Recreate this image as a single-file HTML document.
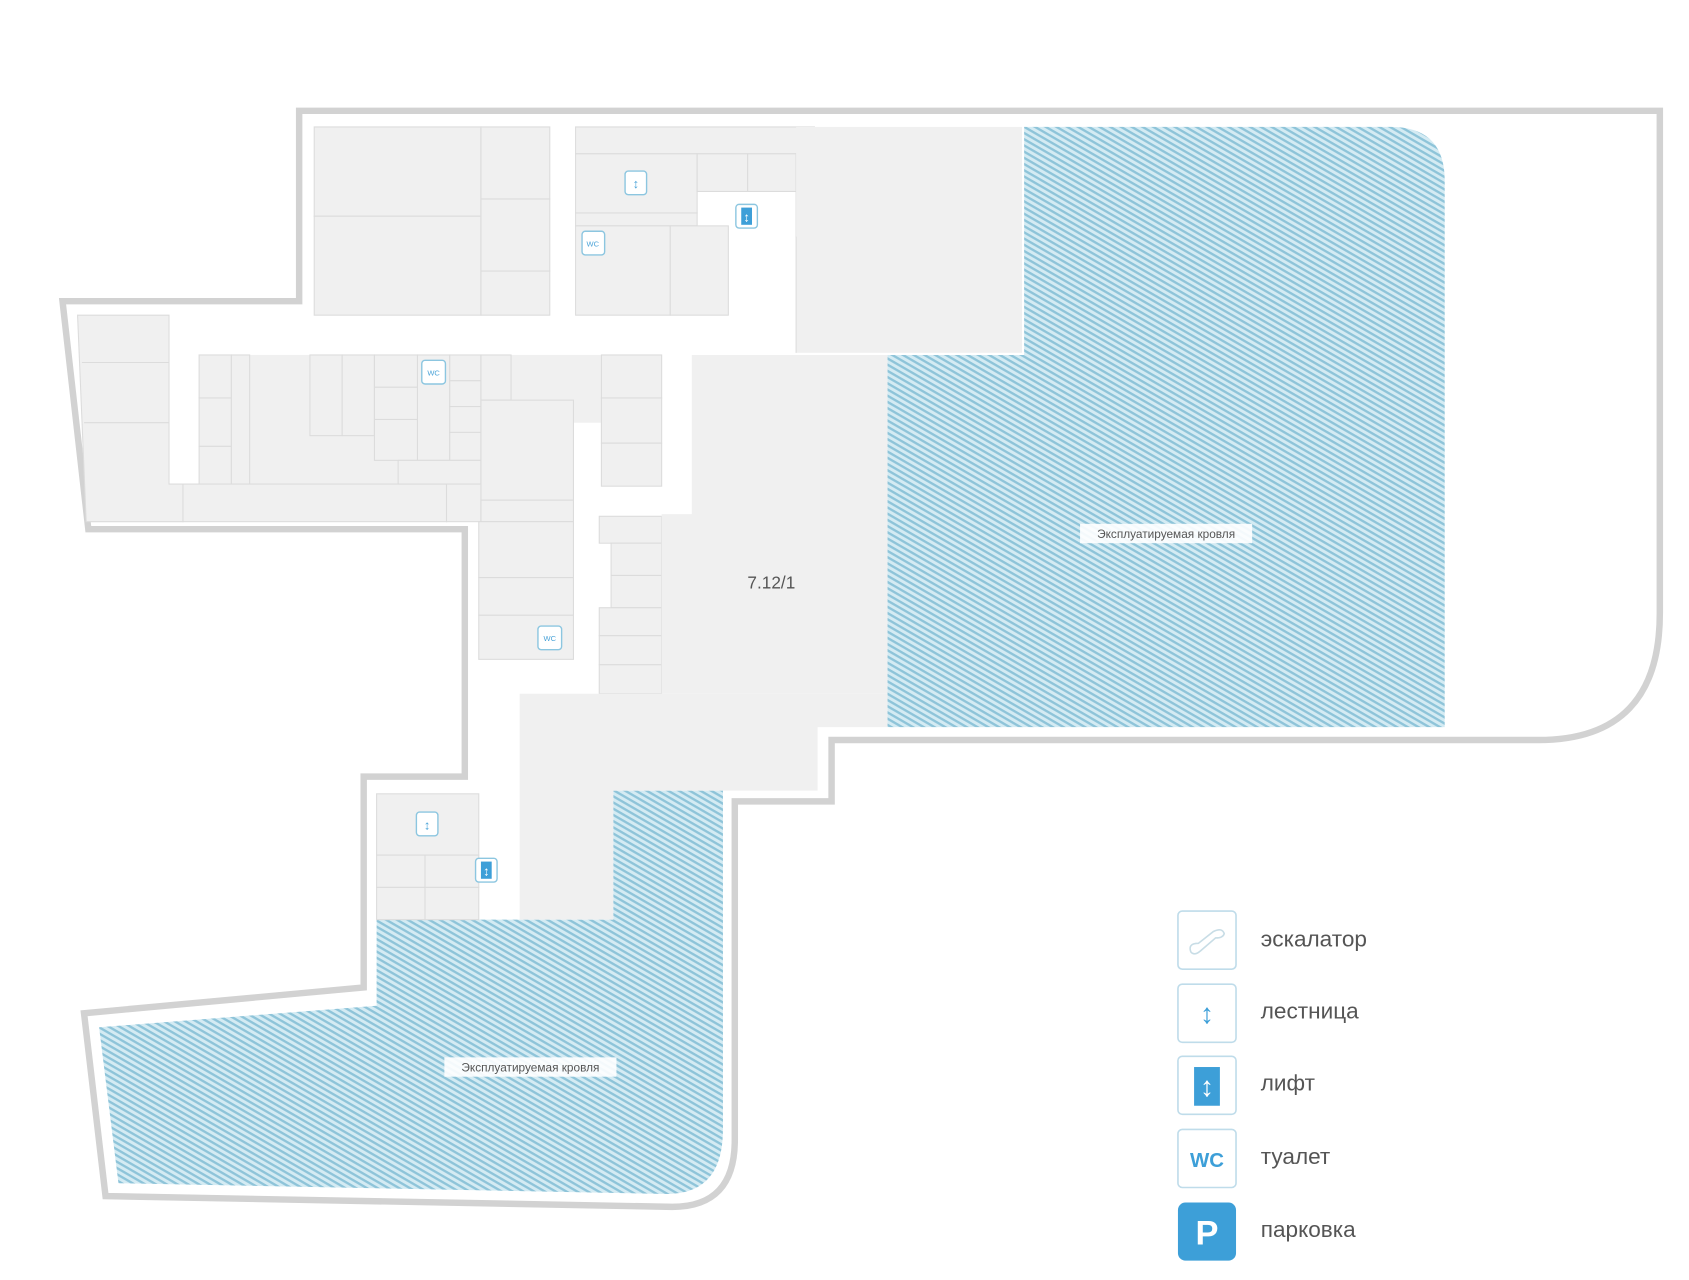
<!DOCTYPE html>
<html><head><meta charset="utf-8"><style>
html,body{margin:0;padding:0;background:#fff}
svg{display:block}
text{font-family:"Liberation Sans",sans-serif}
</style></head><body>
<svg width="1689" height="1280" viewBox="0 0 1570 1190" xmlns="http://www.w3.org/2000/svg">
<defs>
<pattern id="h" width="5" height="5" patternUnits="userSpaceOnUse" patternTransform="rotate(30)">
<rect width="5" height="5" fill="#d4ebf3"/>
<rect width="5" height="2.2" fill="#8ec4d9"/>
</pattern>
</defs>
<path d="M278,103 H1543 V570 Q1543,688 1430,688 H773 V745 H683 V1060 Q683,1122 625,1122 L98,1112 L78,942 L338,918 V722 H432 V492 H82 L58,280 H278 Z" fill="#fff" stroke="#d2d2d2" stroke-width="6"/>
<path d="M952,118 H1293 Q1343,118 1343,168 V676 H825 V330 H952 Z" fill="url(#h)"/>
<path d="M570,735 H672 V1050 Q672,1110 620,1110 L110,1100 L92,955 L350,935 V855 H570 Z" fill="url(#h)"/>
<g fill="#f0f0f0" stroke="#dcdcdc" stroke-width="1">
<rect x="232" y="330" width="301" height="155" stroke="none"/>
<rect x="533" y="330" width="26" height="63" stroke="none"/>
<rect x="292" y="118" width="155" height="83"/><rect x="292" y="201" width="155" height="92"/>
<rect x="447" y="118" width="64" height="67"/><rect x="447" y="185" width="64" height="67"/><rect x="447" y="252" width="64" height="41"/>
<rect x="535" y="118" width="222" height="25"/>
<rect x="535" y="143" width="113" height="55"/><rect x="535" y="198" width="113" height="12"/>
<rect x="648" y="143" width="47" height="35"/><rect x="695" y="143" width="45" height="35"/><rect x="740" y="143" width="17" height="77"/>
<rect x="535" y="210" width="88" height="83"/><rect x="623" y="210" width="54" height="83"/>
<rect x="740" y="118" width="210" height="210" stroke="none"/>
<line x1="740" y1="220" x2="740" y2="328"/>
<path d="M72,293 H157 V450 H170 V485 H80 Z"/>
<line x1="76" y1="337" x2="157" y2="337"/><line x1="78" y1="393" x2="157" y2="393"/>
<rect x="185" y="330" width="30" height="40"/><rect x="185" y="370" width="30" height="45"/><rect x="185" y="415" width="30" height="35"/><rect x="215" y="330" width="17" height="120"/>
<rect x="170" y="450" width="245" height="35"/>
<rect x="288" y="330" width="30" height="75"/><rect x="318" y="330" width="30" height="75"/>
<rect x="348" y="330" width="40" height="30"/><rect x="348" y="360" width="40" height="30"/><rect x="348" y="390" width="40" height="38"/>
<rect x="388" y="330" width="30" height="98"/>
<rect x="418" y="330" width="29" height="24"/><rect x="418" y="354" width="29" height="24"/><rect x="418" y="378" width="29" height="24"/><rect x="418" y="402" width="29" height="26"/>
<rect x="370" y="428" width="77" height="22"/>
<rect x="447" y="330" width="28" height="42"/>
<rect x="447" y="372" width="86" height="93"/>
<rect x="559" y="330" width="56" height="40"/><rect x="559" y="370" width="56" height="42"/><rect x="559" y="412" width="56" height="40"/>
<rect x="415" y="450" width="32" height="35"/><rect x="447" y="465" width="86" height="20"/>
<rect x="445" y="485" width="88" height="52"/><rect x="445" y="537" width="88" height="35"/><rect x="445" y="572" width="88" height="41"/>
<rect x="557" y="480" width="58" height="25"/><rect x="568" y="505" width="47" height="30"/><rect x="568" y="535" width="47" height="30"/><rect x="557" y="565" width="58" height="26"/><rect x="557" y="591" width="58" height="27"/><rect x="557" y="618" width="58" height="27"/>
<path d="M643,330 H825 V645 H615 V478 H643 Z" stroke="none"/>
<path d="M483,645 H825 V676 H760 V735 H570 V855 H483 Z" stroke="none"/>
<rect x="350" y="738" width="95" height="57"/><rect x="350" y="795" width="45" height="30"/><rect x="395" y="795" width="50" height="30"/><rect x="350" y="825" width="45" height="30"/><rect x="395" y="825" width="50" height="30"/>
</g>
<g fill="#fff" stroke="#8cc6e0" stroke-width="1.3">
<rect x="581" y="159" width="20" height="22" rx="3"/><rect x="387" y="755" width="20" height="22" rx="3"/>
<rect x="541" y="215" width="21" height="22" rx="3"/><rect x="392" y="335" width="22" height="22" rx="3"/><rect x="500" y="582" width="22" height="22" rx="3"/>
<rect x="684" y="190" width="20" height="22" rx="3"/><rect x="442" y="798" width="20" height="22" rx="3"/>
</g>
<g fill="#3d9fd8"><rect x="689" y="193" width="10" height="16"/><rect x="447" y="801" width="10" height="16"/></g>
<g fill="#4aa3d8" font-size="7" text-anchor="middle" font-family="Liberation Serif,serif">
<text x="591" y="175" font-size="12">↕</text><text x="397" y="771" font-size="12">↕</text>
<text x="551" y="229">WC</text><text x="403" y="349">WC</text><text x="511" y="596">WC</text>
<text x="694" y="206" font-size="12" fill="#fff">↕</text><text x="452" y="814" font-size="12" fill="#fff">↕</text>
</g>
<text x="717" y="547" font-size="16" fill="#555" text-anchor="middle">7.12/1</text>
<rect x="1004" y="487" width="160" height="18" fill="#fff" opacity=".9"/>
<text x="1084" y="500" font-size="11" fill="#555" text-anchor="middle">Эксплуатируемая кровля</text>
<rect x="413" y="983" width="160" height="18" fill="#fff" opacity=".9"/>
<text x="493" y="996" font-size="11" fill="#555" text-anchor="middle">Эксплуатируемая кровля</text>
<g fill="#fff" stroke="#bfdcea" stroke-width="1.5">
<rect x="1095" y="847" width="54" height="54" rx="4"/><rect x="1095" y="915" width="54" height="54" rx="4"/><rect x="1095" y="982" width="54" height="54" rx="4"/><rect x="1095" y="1050" width="54" height="54" rx="4"/>
</g>
<rect x="1095" y="1118" width="54" height="54" rx="7" fill="#3d9fd8"/>
<path d="M1107,885 Q1104,877 1114,877 L1128,866 Q1136,862 1138,868 Q1137,872 1130,872 L1116,884 Q1110,889 1107,885 Z" fill="none" stroke="#c8dde6" stroke-width="1.5"/>
<text x="1122" y="951" font-size="26" fill="#3d9fd8" text-anchor="middle">↕</text>
<rect x="1110" y="992" width="24" height="36" fill="#3d9fd8"/>
<text x="1122" y="1019" font-size="26" fill="#fff" text-anchor="middle">↕</text>
<text x="1122" y="1085" font-size="19" font-weight="bold" fill="#3d9fd8" text-anchor="middle" font-family="Liberation Serif,serif">WC</text>
<text x="1122" y="1157" font-size="32" font-weight="bold" fill="#fff" text-anchor="middle" font-family="Liberation Serif,serif">P</text>
<g font-size="21" fill="#555">
<text x="1172" y="880">эскалатор</text><text x="1172" y="947">лестница</text><text x="1172" y="1014">лифт</text><text x="1172" y="1082">туалет</text><text x="1172" y="1150">парковка</text>
</g>
</svg>
</body></html>
